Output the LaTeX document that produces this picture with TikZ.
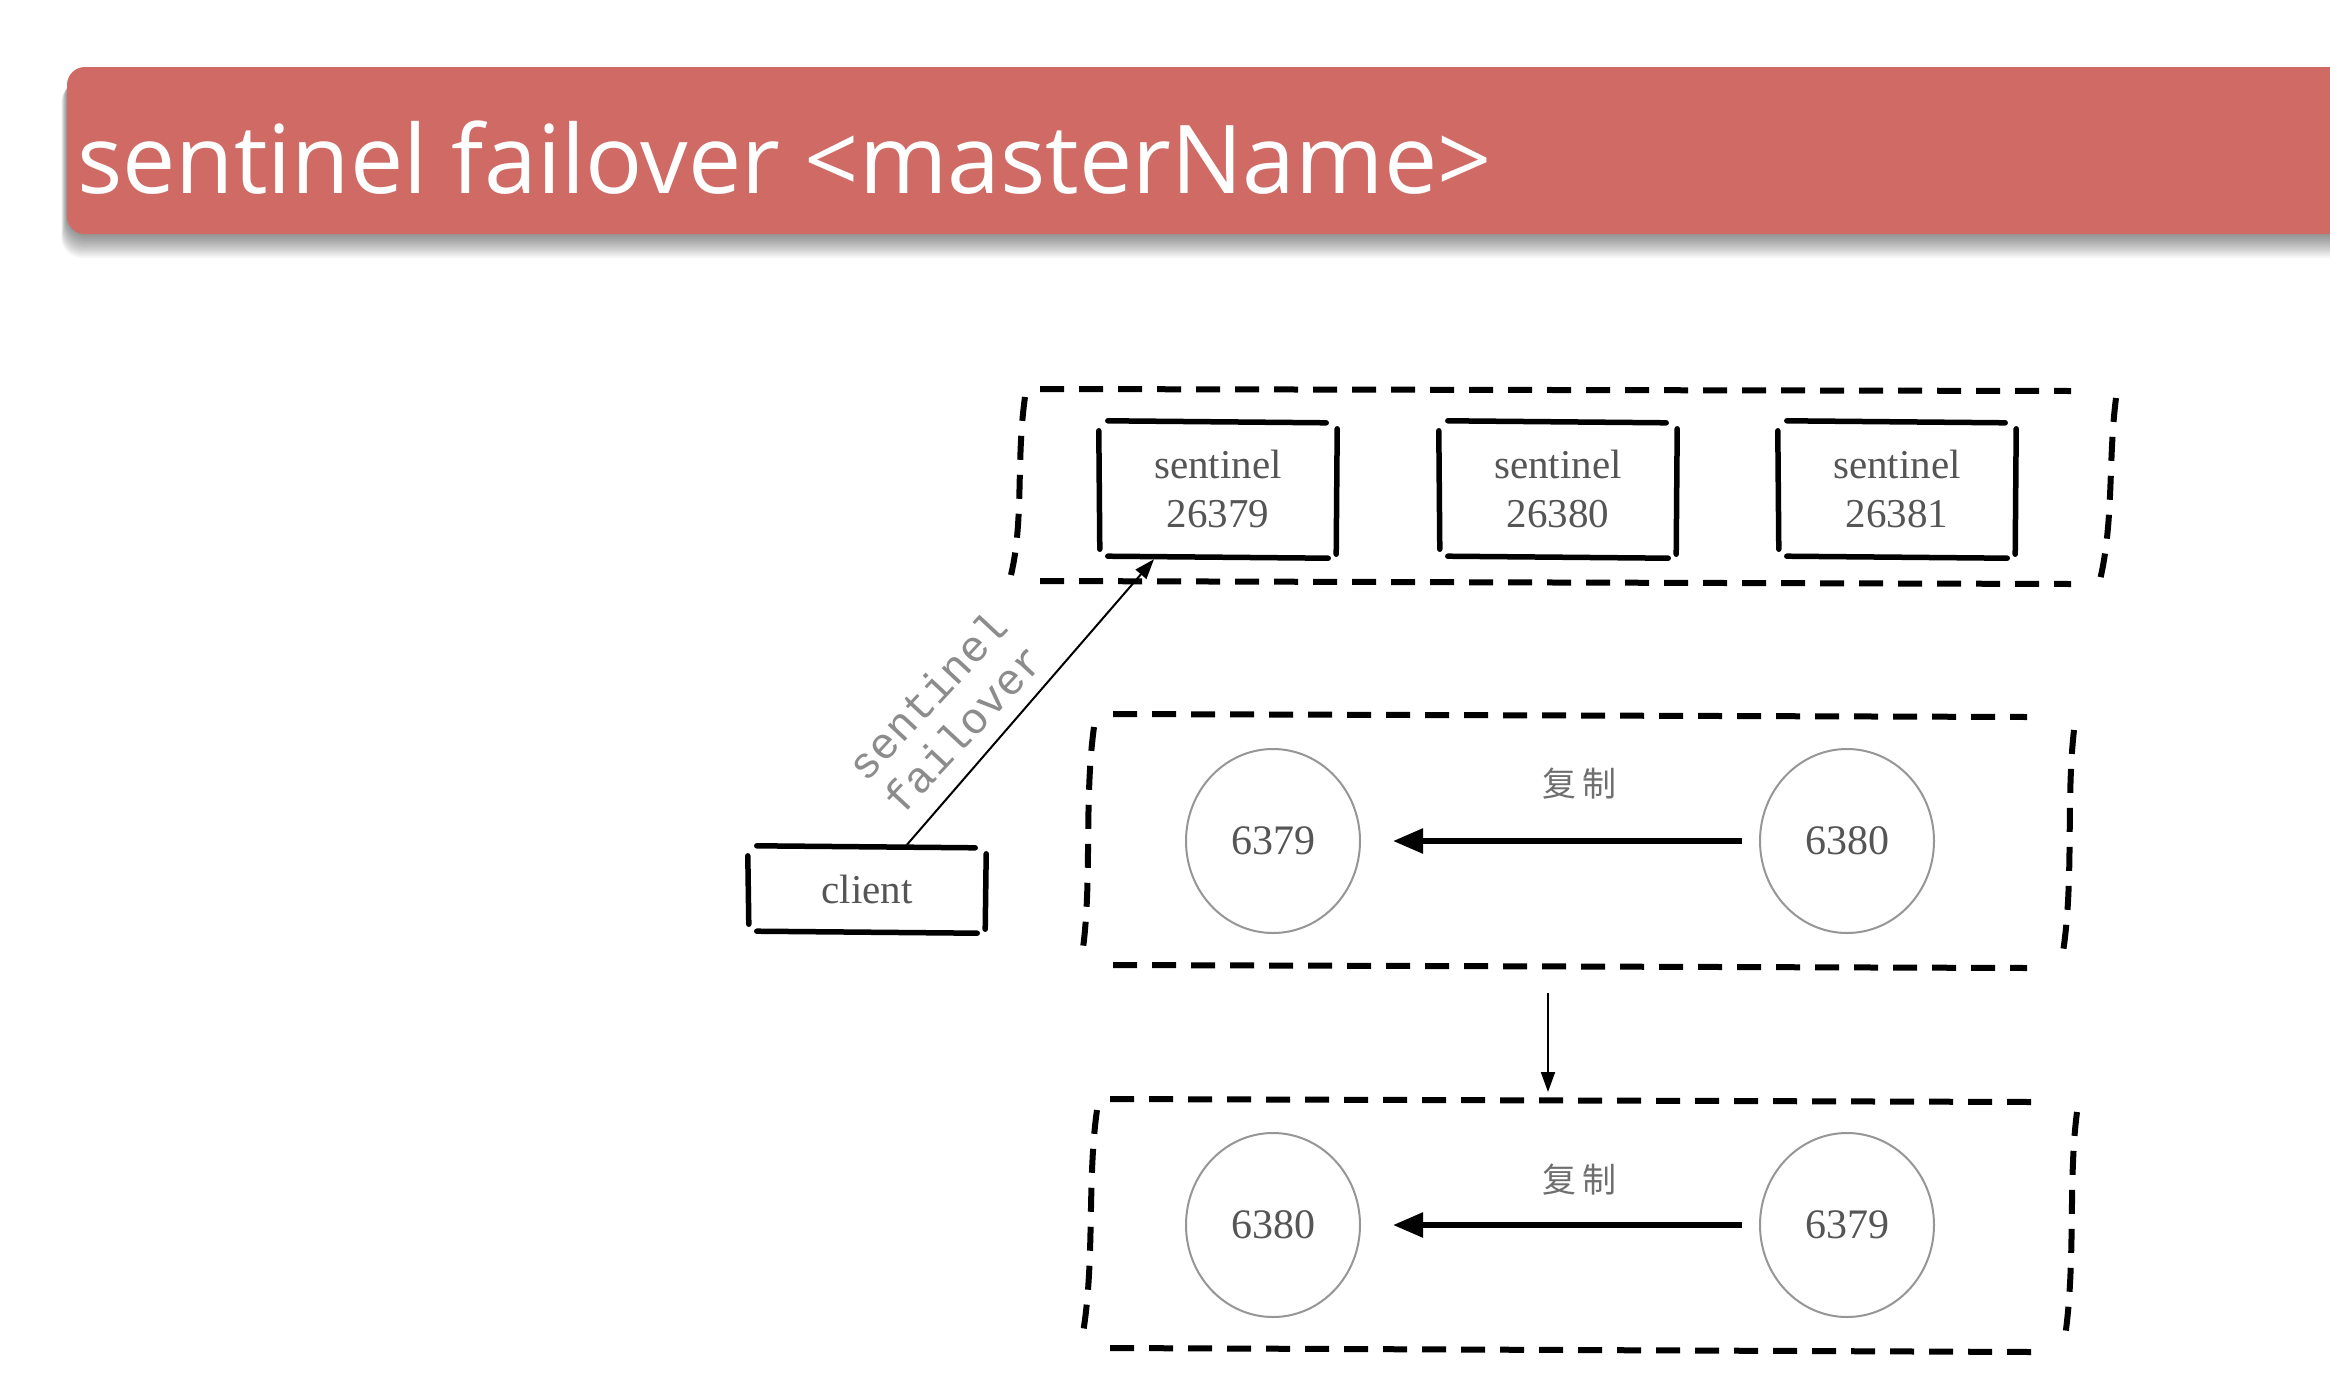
\documentclass[tikz,border=0pt]{standalone}
\usepackage{fontspec}
\setmainfont{Liberation Serif}
\newfontfamily\headfont{Open Sans}
\newfontfamily\codefont{Liberation Mono}
\newfontfamily\cjkfont{Noto Sans CJK SC}
\usetikzlibrary{arrows.meta,shapes.geometric,calc}
\definecolor{barred}{RGB}{207,106,101}
\definecolor{txtgray}{RGB}{85,85,85}
\definecolor{lblgray}{RGB}{140,140,140}
\definecolor{circgray}{RGB}{150,150,150}
\begin{document}
\begin{tikzpicture}[x=1pt,y=-1pt,
  sbox/.style={draw=none, minimum width=236, minimum height=136, inner sep=0, align=center, text=txtgray, font=\fontsize{41}{49}\selectfont},
  cnode/.style={ellipse, draw=circgray, line width=2, minimum width=174, minimum height=184, inner sep=0, text=txtgray, font=\fontsize{42}{42}\selectfont},
  grp/.style={line width=6, dash pattern=on 24 off 15, line cap=butt},
  skedge/.style={line width=5.5, line cap=round},
  repl/.style={line width=5.5, -{Triangle[length=30,width=24]}},
  thinarrow/.style={line width=2, -{Triangle[length=20,width=14]}},
  cjklbl/.style={text=txtgray!85, font=\cjkfont\fontsize{34}{34}\selectfont},
]
\useasboundingbox (0,0) rectangle (2330,1390);
\clip (0,0) rectangle (2330,1390);
\fill[white] (0,0) rectangle (2330,1390);

% header shadow and bar
\foreach \i in {1,...,14}
  \fill[black, opacity=0.035, rounded corners=20] (67-\i*0.4, 75+\i*0.5) rectangle (2400, 234+\i*1.7);
\fill[barred, rounded corners=18] (67,67) rectangle (2400,234);
\node[anchor=base west, text=white, font=\headfont\fontsize{95}{110}\selectfont, inner sep=0] (title) at (77,193) {sentinel failover <masterName>};

% sentinel boxes and client
\node[sbox] (s1) at (1218,489) {sentinel\\26379};
\node[sbox] (s2) at (1558,489) {sentinel\\26380};
\node[sbox] (s3) at (1897,489) {sentinel\\26381};
\node[sbox, minimum height=86] (client) at (867,889) {client};
\foreach \n in {s1,s2,s3,client}{
  \draw[skedge] ($(\n.north west)+(8,0)$) -- ($(\n.north east)+(-10,2)$);
  \draw[skedge] ($(\n.north east)+(1,8)$) -- ($(\n.south east)+(0,-3)$);
  \draw[skedge] ($(\n.south west)+(8,-1)$) -- ($(\n.south east)+(-8,1)$);
  \draw[skedge] ($(\n.north west)+(-1,10)$) -- ($(\n.south west)+(0,-8)$);
}

% dashed groups
\draw[grp] (1040,389) -- (2071,391);
\draw[grp] (1040,581) -- (2071,584);
\draw[grp] (1025,397) .. controls (1016,460) and (1024,520) .. (1011,575);
\draw[grp] (2116,398) .. controls (2108,460) and (2114,520) .. (2100,580);

\draw[grp] (1113,714) -- (2027,717);
\draw[grp] (1113,965) -- (2027,968);
\draw[grp] (1094,727) .. controls (1084,800) and (1092,880) .. (1083,948);
\draw[grp] (2074,730) .. controls (2066,800) and (2074,880) .. (2063,952);

\draw[grp] (1110,1099) -- (2031,1102);
\draw[grp] (1110,1348) -- (2031,1352);
\draw[grp] (1097,1110) .. controls (1087,1180) and (1095,1260) .. (1083,1333);
\draw[grp] (2077,1112) .. controls (2068,1180) and (2076,1260) .. (2065,1337);

% redis circles
\node[cnode] (c1) at (1273,841) {6379};
\node[cnode] (c2) at (1847,841) {6380};
\node[cnode] (c3) at (1273,1225) {6380};
\node[cnode] (c4) at (1847,1225) {6379};

\draw[repl, shorten <=17, shorten >=32] (c2) -- (c1);
\draw[repl, shorten <=17, shorten >=32] (c4) -- (c3);
\node[cjklbl] (r1) at (1579,784) {复\hspace{6pt}制};
\node[cjklbl] (r2) at (1579,1180) {复\hspace{6pt}制};

% transition arrow
\coordinate (va) at (1548,993);
\coordinate (vb) at (1548,1092);
\draw[thinarrow] (va) -- (vb);

% client to sentinel
\coordinate (ca) at ($(client.north)+(39,0)$);
\coordinate (sa) at ($(s1.south)+(-64,2)$);
\draw[thinarrow] (ca) -- (sa);
\node[text=lblgray, font=\codefont\fontsize{44}{48}\selectfont, rotate=47, align=center, inner sep=0] (lbl) at (945,712) {sentinel\\failover};
\end{tikzpicture}
\end{document}
